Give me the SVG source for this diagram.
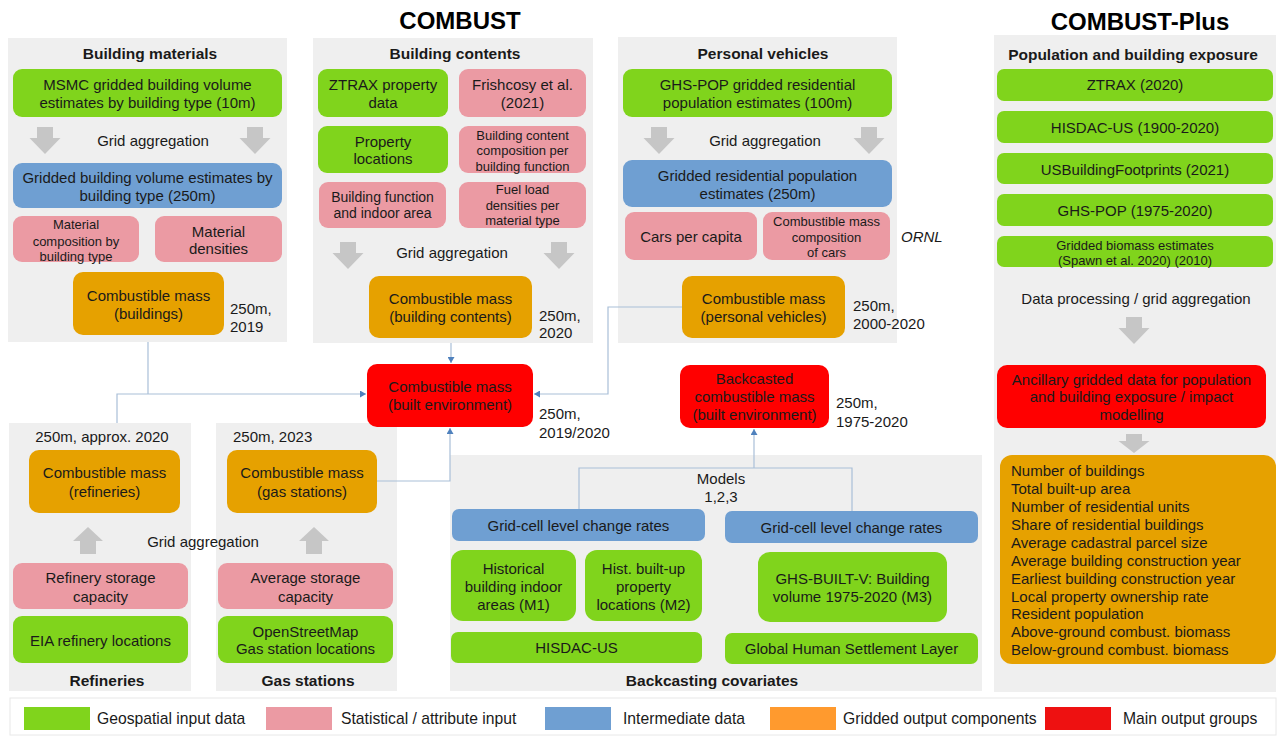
<svg xmlns="http://www.w3.org/2000/svg" xmlns:xlink="http://www.w3.org/1999/xlink" width="1279" height="736" viewBox="0 0 1279 736">
<style>
.t{font-family:'Liberation Sans',Arial,sans-serif;font-size:15px;fill:#1a1a1a;text-anchor:middle}
.s{font-size:13px}
.m{font-size:14px}
.h{font-weight:bold;font-size:15.5px}
.big{font-weight:bold;font-size:24px;fill:#000}
.st{text-anchor:start}
.it{font-style:italic}
.lg{font-size:15.7px}
.panel{fill:#efefef}
.g{fill:#80d41c}
.p{fill:#eb9aa3}
.b{fill:#6f9fd2}
.o{fill:#e6a100}
.r{fill:#ff0000}
.arr{fill:#c6c6c6}
.con{fill:none;stroke:#a9bfd8;stroke-width:1.2}
</style>
<defs>
<marker id="ah" markerUnits="userSpaceOnUse" markerWidth="7" markerHeight="7" refX="6" refY="3.5" orient="auto">
<path d="M0,0 L6,3.5 L0,7 Z" fill="#4f81bd"/>
</marker>
<path id="darr" d="M-8,0 H8 V11 H15.5 L0,27 L-15.5,11 H-8 Z"/>
<path id="uarr" d="M-8,27 H8 V14 H15 L0,0 L-15,14 H-8 Z"/>
</defs>
<rect width="1279" height="736" fill="#ffffff"/>

<text class="t big" x="460" y="29">COMBUST</text>
<text class="t big" x="1140" y="30">COMBUST-Plus</text>

<!-- Panels -->
<g id="panel-building-materials">
<rect class="panel" x="8" y="38" width="279" height="304"/>
<text class="t h" x="150" y="59">Building materials</text>
</g>
<g id="panel-building-contents">
<rect class="panel" x="313" y="38" width="280" height="305"/>
<text class="t h" x="455" y="59">Building contents</text>
</g>
<g id="panel-personal-vehicles">
<rect class="panel" x="618" y="37" width="279" height="306"/>
<text class="t h" x="763" y="59">Personal vehicles</text>
</g>
<g id="panel-plus">
<rect class="panel" x="994" y="35" width="282" height="657"/>
<text class="t h" x="1133" y="60">Population and building exposure</text>
</g>
<g id="panel-refineries">
<rect class="panel" x="9" y="423" width="182" height="268"/>
<text class="t h" x="107" y="686">Refineries</text>
</g>
<g id="panel-gas-stations">
<rect class="panel" x="216" y="423" width="181" height="268"/>
<text class="t h" x="308" y="686">Gas stations</text>
</g>
<g id="panel-backcasting">
<rect class="panel" x="450" y="455" width="532" height="236"/>
<text class="t h" x="712" y="686">Backcasting covariates</text>
</g>

<!-- Connectors -->
<g id="connectors">
<path class="con" d="M148,342 V394"/>
<path class="con" d="M117,423 V394 H366" marker-end="url(#ah)"/>
<path class="con" d="M451,343 V363" marker-end="url(#ah)"/>
<path class="con" d="M682,307 H608 V394 H534" marker-end="url(#ah)"/>
<path class="con" d="M377,481 H450 V428" marker-end="url(#ah)"/>
<path class="con" d="M754,468 V429" marker-end="url(#ah)"/>
<path class="con" d="M579,509 V468 H852 V511"/>
</g>

<!-- Building materials -->
<g id="msmc">
<rect class="g" x="13" y="69" width="269" height="48" rx="9"/>
<text class="t" x="147.5" y="90">MSMC gridded building volume</text>
<text class="t" x="147.5" y="108">estimates by building type (10m)</text>
</g>
<g id="bm-aggregation">
<use href="#darr" class="arr" x="45" y="127"/>
<use href="#darr" class="arr" x="255" y="127"/>
<text class="t" x="153" y="146">Grid aggregation</text>
</g>
<g id="gridded-volume">
<rect class="b" x="13" y="163" width="269" height="45" rx="9"/>
<text class="t" x="147.5" y="183">Gridded building volume estimates by</text>
<text class="t" x="147.5" y="201">building type (250m)</text>
</g>
<g id="material-composition">
<rect class="p" x="13" y="216" width="126" height="46" rx="9"/>
<text class="t s" x="76" y="228.5">Material</text>
<text class="t s" x="76" y="245.5">composition by</text>
<text class="t s" x="76" y="261">building type</text>
</g>
<g id="material-densities">
<rect class="p" x="155" y="216" width="127" height="46" rx="9"/>
<text class="t" x="218.5" y="237">Material</text>
<text class="t" x="218.5" y="254">densities</text>
</g>
<g id="cm-buildings">
<rect class="o" x="73" y="272" width="151" height="63" rx="10"/>
<text class="t" x="148.5" y="301">Combustible mass</text>
<text class="t" x="148.5" y="319">(buildings)</text>
<text class="t st" x="230" y="314">250m,</text>
<text class="t st" x="230" y="332">2019</text>
</g>

<!-- Building contents -->
<g id="ztrax-property">
<rect class="g" x="318" y="69" width="130" height="48" rx="9"/>
<text class="t" x="383" y="90">ZTRAX property</text>
<text class="t" x="383" y="108">data</text>
</g>
<g id="frishcosy">
<rect class="p" x="459" y="69" width="127" height="48" rx="9"/>
<text class="t" x="522.5" y="90">Frishcosy et al.</text>
<text class="t" x="522.5" y="108">(2021)</text>
</g>
<g id="property-locations">
<rect class="g" x="318" y="126" width="130" height="47" rx="9"/>
<text class="t" x="383" y="147">Property</text>
<text class="t" x="383" y="164">locations</text>
</g>
<g id="content-composition">
<rect class="p" x="459" y="126" width="127" height="47" rx="9"/>
<text class="t s" x="522.5" y="139.5">Building content</text>
<text class="t s" x="522.5" y="155">composition per</text>
<text class="t s" x="522.5" y="170.5">building function</text>
</g>
<g id="building-function">
<rect class="p" x="319" y="182" width="127" height="46" rx="9"/>
<text class="t m" x="382.5" y="202">Building function</text>
<text class="t m" x="382.5" y="218">and indoor area</text>
</g>
<g id="fuel-load">
<rect class="p" x="459" y="182" width="127" height="46" rx="9"/>
<text class="t s" x="522.5" y="193.5">Fuel load</text>
<text class="t s" x="522.5" y="209.5">densities per</text>
<text class="t s" x="522.5" y="225">material type</text>
</g>
<g id="bc-aggregation">
<use href="#darr" class="arr" x="348" y="242"/>
<use href="#darr" class="arr" x="559" y="242"/>
<text class="t" x="452" y="258">Grid aggregation</text>
</g>
<g id="cm-contents">
<rect class="o" x="369" y="276" width="163" height="62" rx="10"/>
<text class="t" x="450.5" y="304">Combustible mass</text>
<text class="t" x="450.5" y="322">(building contents)</text>
<text class="t st" x="539" y="321">250m,</text>
<text class="t st" x="539" y="338">2020</text>
</g>

<!-- Personal vehicles -->
<g id="ghs-pop-100">
<rect class="g" x="623" y="69" width="269" height="48" rx="9"/>
<text class="t" x="757.5" y="90">GHS-POP gridded residential</text>
<text class="t" x="757.5" y="108">population estimates (100m)</text>
</g>
<g id="pv-aggregation">
<use href="#darr" class="arr" x="659" y="127"/>
<use href="#darr" class="arr" x="869" y="127"/>
<text class="t" x="765" y="146">Grid aggregation</text>
</g>
<g id="gridded-population">
<rect class="b" x="623" y="160" width="269" height="47" rx="9"/>
<text class="t" x="757.5" y="181">Gridded residential population</text>
<text class="t" x="757.5" y="199">estimates (250m)</text>
</g>
<g id="cars-per-capita">
<rect class="p" x="625" y="212" width="132" height="48" rx="9"/>
<text class="t" x="691" y="242">Cars per capita</text>
</g>
<g id="car-composition">
<rect class="p" x="763" y="212" width="127" height="48" rx="9"/>
<text class="t s" x="826.5" y="225.5">Combustible mass</text>
<text class="t s" x="826.5" y="241.5">composition</text>
<text class="t s" x="826.5" y="257">of cars</text>
<text class="t st it" x="901" y="242">ORNL</text>
</g>
<g id="cm-vehicles">
<rect class="o" x="682" y="276" width="163" height="62" rx="10"/>
<text class="t" x="763.5" y="304">Combustible mass</text>
<text class="t" x="763.5" y="322">(personal vehicles)</text>
<text class="t st" x="853" y="311">250m,</text>
<text class="t st" x="853" y="329">2000-2020</text>
</g>

<!-- Central -->
<g id="cm-built-environment">
<rect class="r" x="367" y="364" width="166" height="63" rx="10"/>
<text class="t" x="450" y="392">Combustible mass</text>
<text class="t" x="450" y="410">(built environment)</text>
<text class="t st" x="539" y="419">250m,</text>
<text class="t st" x="539" y="438">2019/2020</text>
</g>
<g id="backcasted">
<rect class="r" x="680" y="365" width="149" height="63" rx="10"/>
<text class="t" x="754.5" y="384">Backcasted</text>
<text class="t" x="754.5" y="402">combustible mass</text>
<text class="t" x="754.5" y="420">(built environment)</text>
<text class="t st" x="836" y="408">250m,</text>
<text class="t st" x="836" y="427">1975-2020</text>
</g>

<!-- Refineries -->
<g id="cm-refineries">
<text class="t" x="102" y="442">250m, approx. 2020</text>
<rect class="o" x="29" y="450" width="151" height="63" rx="10"/>
<text class="t" x="104.5" y="478">Combustible mass</text>
<text class="t" x="104.5" y="497">(refineries)</text>
</g>
<g id="ref-aggregation">
<use href="#uarr" class="arr" x="88" y="527"/>
<use href="#uarr" class="arr" x="314" y="527"/>
<text class="t" x="203" y="547">Grid aggregation</text>
</g>
<g id="refinery-capacity">
<rect class="p" x="13" y="563" width="175" height="46" rx="9"/>
<text class="t" x="100.5" y="583">Refinery storage</text>
<text class="t" x="100.5" y="602">capacity</text>
</g>
<g id="eia-locations">
<rect class="g" x="13" y="616" width="175" height="47" rx="9"/>
<text class="t" x="100.5" y="646">EIA refinery locations</text>
</g>

<!-- Gas stations -->
<g id="cm-gas">
<text class="t st" x="233" y="442">250m, 2023</text>
<rect class="o" x="227" y="450" width="150" height="63" rx="10"/>
<text class="t" x="302" y="478">Combustible mass</text>
<text class="t" x="302" y="497">(gas stations)</text>
</g>
<g id="gas-capacity">
<rect class="p" x="218" y="563" width="175" height="46" rx="9"/>
<text class="t" x="305.5" y="583">Average storage</text>
<text class="t" x="305.5" y="602">capacity</text>
</g>
<g id="osm-locations">
<rect class="g" x="218" y="616" width="175" height="47" rx="9"/>
<text class="t" x="305.5" y="637">OpenStreetMap</text>
<text class="t" x="305.5" y="654">Gas station locations</text>
</g>

<!-- Backcasting -->
<g id="models">
<text class="t" x="721" y="484">Models</text>
<text class="t" x="721" y="502">1,2,3</text>
</g>
<g id="change-rates-left">
<rect class="b" x="452" y="509" width="253" height="32" rx="7"/>
<text class="t" x="578.5" y="531">Grid-cell level change rates</text>
</g>
<g id="change-rates-right">
<rect class="b" x="725" y="511" width="253" height="32" rx="7"/>
<text class="t" x="851.5" y="533">Grid-cell level change rates</text>
</g>
<g id="m1">
<rect class="g" x="451" y="550" width="125" height="71" rx="12"/>
<text class="t" x="513.5" y="574">Historical</text>
<text class="t" x="513.5" y="592">building indoor</text>
<text class="t" x="513.5" y="610">areas (M1)</text>
</g>
<g id="m2">
<rect class="g" x="585" y="550" width="117" height="71" rx="12"/>
<text class="t" x="643.5" y="574">Hist. built-up</text>
<text class="t" x="643.5" y="592">property</text>
<text class="t" x="643.5" y="610">locations (M2)</text>
</g>
<g id="m3">
<rect class="g" x="758" y="552" width="189" height="70" rx="12"/>
<text class="t" x="852.5" y="584">GHS-BUILT-V: Building</text>
<text class="t" x="852.5" y="602">volume 1975-2020 (M3)</text>
</g>
<g id="hisdac-us">
<rect class="g" x="451" y="632" width="251" height="31" rx="7"/>
<text class="t" x="576.5" y="653">HISDAC-US</text>
</g>
<g id="ghsl">
<rect class="g" x="725" y="633" width="253" height="31" rx="7"/>
<text class="t" x="851.5" y="654">Global Human Settlement Layer</text>
</g>

<!-- COMBUST-Plus -->
<g id="plus-ztrax">
<rect class="g" x="997" y="69" width="276" height="32" rx="7"/>
<text class="t" x="1135" y="90">ZTRAX (2020)</text>
</g>
<g id="plus-hisdac">
<rect class="g" x="997" y="111" width="276" height="32" rx="7"/>
<text class="t" x="1135" y="133">HISDAC-US (1900-2020)</text>
</g>
<g id="plus-footprints">
<rect class="g" x="997" y="153" width="276" height="31" rx="7"/>
<text class="t" x="1135" y="175">USBuildingFootprints (2021)</text>
</g>
<g id="plus-ghspop">
<rect class="g" x="997" y="194" width="276" height="32" rx="7"/>
<text class="t" x="1135" y="216">GHS-POP (1975-2020)</text>
</g>
<g id="plus-biomass">
<rect class="g" x="997" y="236" width="276" height="31" rx="7"/>
<text class="t s" x="1135" y="249.5">Gridded biomass estimates</text>
<text class="t s" x="1135" y="265">(Spawn et al. 2020) (2010)</text>
</g>
<g id="plus-processing">
<text class="t" x="1136" y="304">Data processing / grid aggregation</text>
<use href="#darr" class="arr" x="1134" y="317"/>
</g>
<g id="ancillary">
<rect class="r" x="997" y="365" width="269" height="63" rx="10"/>
<text class="t" x="1131.5" y="385">Ancillary gridded data for population</text>
<text class="t" x="1131.5" y="402">and building exposure / impact</text>
<text class="t" x="1131.5" y="420">modelling</text>
<path class="arr" d="M1126,434 H1142 V441 H1149.5 L1134,453 L1118.5,441 H1126 Z"/>
</g>
<g id="plus-outputs">
<rect class="o" x="1000" y="455" width="276" height="209" rx="12"/>
<text class="t st" x="1011" y="476">Number of buildings</text>
<text class="t st" x="1011" y="494">Total built-up area</text>
<text class="t st" x="1011" y="512">Number of residential units</text>
<text class="t st" x="1011" y="530">Share of residential buildings</text>
<text class="t st" x="1011" y="548">Average cadastral parcel size</text>
<text class="t st" x="1011" y="566">Average building construction year</text>
<text class="t st" x="1011" y="584">Earliest building construction year</text>
<text class="t st" x="1011" y="602">Local property ownership rate</text>
<text class="t st" x="1011" y="619">Resident population</text>
<text class="t st" x="1011" y="637">Above-ground combust. biomass</text>
<text class="t st" x="1011" y="655">Below-ground combust. biomass</text>
</g>

<!-- Legend -->
<g id="legend">
<rect x="10" y="698" width="1266" height="37" fill="#ffffff" stroke="#e8e8e8" stroke-width="1"/>
<rect x="24" y="707" width="66" height="23" fill="#80d41c"/>
<text class="t st lg" x="97" y="724">Geospatial input data</text>
<rect x="266" y="707" width="66" height="23" fill="#eb9aa3"/>
<text class="t st lg" x="341" y="724">Statistical / attribute input</text>
<rect x="545" y="707" width="66" height="23" fill="#6f9fd2"/>
<text class="t st lg" x="623" y="724">Intermediate data</text>
<rect x="770" y="707" width="66" height="23" fill="#ff9a2e"/>
<text class="t st lg" x="843" y="724">Gridded output components</text>
<rect x="1045" y="707" width="66" height="23" fill="#ee1111"/>
<text class="t st lg" x="1123" y="724">Main output groups</text>
</g>
</svg>
